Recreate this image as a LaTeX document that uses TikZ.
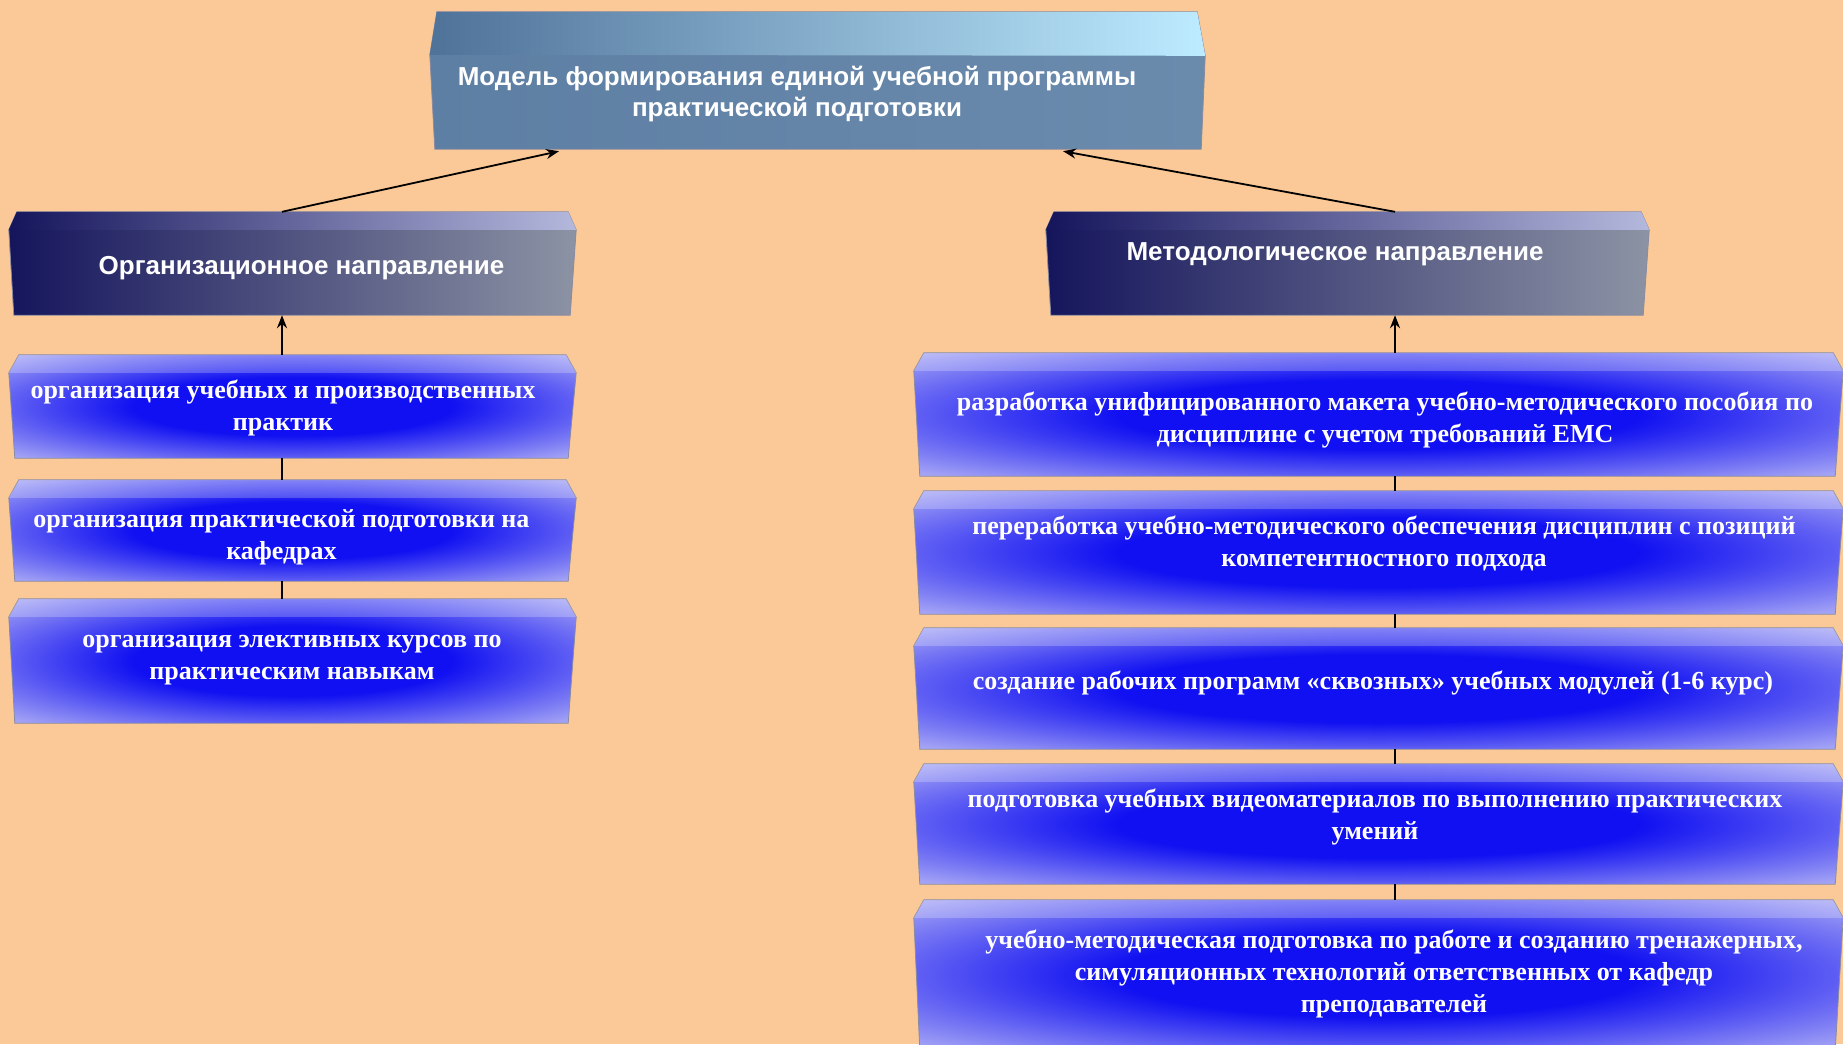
\documentclass[tikz,border=0pt]{standalone}
\usepackage{fontspec}
\setmainfont{Liberation Serif}
\setsansfont{Liberation Sans}
\usetikzlibrary{arrows.meta,calc}
\definecolor{bgpeach}{HTML}{FAC997}
\definecolor{glowin}{HTML}{1010F2}
\definecolor{glowout}{HTML}{C6C6F6}
\definecolor{navy}{HTML}{15155C}
\definecolor{hdrgray}{HTML}{8C93A4}
\definecolor{hdrmid}{HTML}{4E5AAE}
\definecolor{hdrtop}{HTML}{B4B8DC}
\definecolor{steelL}{HTML}{5D7FA3}
\definecolor{steelR}{HTML}{6B8BAD}
\definecolor{steeldark}{HTML}{4F7299}
\definecolor{icecyan}{HTML}{BDEBFF}
\definecolor{edgegray}{HTML}{8A8AA0}
\pgfdeclareradialshading{boxglow}{\pgfpoint{0bp}{0bp}}{color(0bp)=(glowin); color(14bp)=(glowin); color(39bp)=(glowout); color(50bp)=(glowout)}
\newcommand{\glowbox}[1]{%
  \shadedraw[shading=boxglow, boxedge] ($(#1.north west)+(10,0)$) -- ($(#1.north east)+(-10,0)$) -- ($(#1.north east)+(0,18)$) -- ($(#1.south east)+(-8,0)$) -- ($(#1.south west)+(6,0)$) -- ($(#1.north west)+(0,18)$) -- cycle;
  \fill[white, opacity=0.22] ($(#1.north west)+(10,0)$) -- ($(#1.north east)+(-10,0)$) -- ($(#1.north east)+(0,18)$) -- ($(#1.north west)+(0,18)$) -- cycle;
}
\newcommand{\darkbox}[1]{%
  \shadedraw[left color=navy, right color=hdrgray, boxedge] ($(#1.north west)+(8,0)$) -- ($(#1.north east)+(-8,0)$) -- ($(#1.north east)+(0,18)$) -- ($(#1.south east)+(-6,0)$) -- ($(#1.south west)+(5,0)$) -- ($(#1.north west)+(0,18)$) -- cycle;
  \shade[left color=navy, middle color=hdrmid, right color=hdrtop] ($(#1.north west)+(8,0)$) -- ($(#1.north east)+(-8,0)$) -- ($(#1.north east)+(0,18)$) -- ($(#1.north west)+(0,18)$) -- cycle;
}
\tikzset{
  boxn/.style={shape=rectangle, inner sep=0pt, draw=none},
  boxedge/.style={draw=edgegray, line width=0.8pt},
  conn/.style={draw=black, line width=1.8pt},
  tip/.style={-{Stealth[length=13pt,width=10pt]}},
  ctext/.style={text=white, font=\bfseries\fontsize{26}{32}\selectfont, align=center, inner sep=0pt},
  htext/.style={text=white, font=\sffamily\bfseries\fontsize{26}{30.6}\selectfont, align=center, inner sep=0pt}
}
\begin{document}
\begin{tikzpicture}[x=1pt, y=-1pt]
\useasboundingbox (0,0) rectangle (1843,1044);
\clip (0,0) rectangle (1843,1044);
\fill[bgpeach] (0,0) rectangle (1843,1044);

% box frames (invisible helper nodes)
\node[boxn, minimum width=775pt, minimum height=137pt] (top) at (817.5,80.5) {};
\node[boxn, minimum width=567pt, minimum height=103pt] (hl) at (292.5,263.5) {};
\node[boxn, minimum width=603pt, minimum height=103pt] (hr) at (1347.5,263.5) {};
\node[boxn, minimum width=567pt, minimum height=103pt] (L1) at (292.5,406.5) {};
\node[boxn, minimum width=567pt, minimum height=101pt] (L2) at (292.5,530.5) {};
\node[boxn, minimum width=567pt, minimum height=124pt] (L3) at (292.5,661) {};
\node[boxn, minimum width=929pt, minimum height=123pt] (R1) at (1378.5,414.5) {};
\node[boxn, minimum width=929pt, minimum height=123pt] (R2) at (1378.5,552.5) {};
\node[boxn, minimum width=929pt, minimum height=121pt] (R3) at (1378.5,688.5) {};
\node[boxn, minimum width=929pt, minimum height=120pt] (R4) at (1378.5,824) {};
\node[boxn, minimum width=929pt, minimum height=150pt] (R5) at (1378.5,975) {};

% top box
\shadedraw[left color=steelL, right color=steelR, boxedge] ($(top.north west)+(7,0)$) -- ($(top.north east)+(-8,0)$) -- ($(top.north east)+(0,44)$) -- ($(top.south east)+(-4,0)$) -- ($(top.south west)+(5,0)$) -- ($(top.north west)+(0,43)$) -- cycle;
\shade[left color=steeldark, middle color=steelR!70!icecyan, right color=icecyan] ($(top.north west)+(7,0)$) -- ($(top.north east)+(-8,0)$) -- ($(top.north east)+(0,44)$) -- ($(top.north west)+(0,43)$) -- cycle;

\darkbox{hl}
\darkbox{hr}
\glowbox{L1}
\glowbox{L2}
\glowbox{L3}
\glowbox{R1}
\glowbox{R2}
\glowbox{R3}
\glowbox{R4}
\glowbox{R5}

% connector columns
\coordinate (cl) at (282,0);
\coordinate (cr) at (1395,0);
\coordinate (tla) at (559,0);
\coordinate (tra) at (1063,0);

\draw[conn, tip] (hl.north -| cl) -- ($(top.south -| tla)+(0,2)$);
\draw[conn, tip] (hr.north -| cr) -- ($(top.south -| tra)+(0,2)$);
\draw[conn, tip] (L1.north -| cl) -- (hl.south -| cl);
\draw[conn] (L2.north -| cl) -- (L1.south -| cl);
\draw[conn] (L3.north -| cl) -- (L2.south -| cl);
\draw[conn, tip] (R1.north -| cr) -- (hr.south -| cr);
\draw[conn] (R2.north -| cr) -- (R1.south -| cr);
\draw[conn] (R3.north -| cr) -- (R2.south -| cr);
\draw[conn] (R4.north -| cr) -- (R3.south -| cr);
\draw[conn] (R5.north -| cr) -- (R4.south -| cr);

% texts
\node[htext] (tTop) at (797,94) {Модель формирования единой учебной программы\\практической подготовки};
\node[htext] (tHL) at (301.5,268) {Организационное направление};
\node[htext] (tHR) at (1335,254) {Методологическое направление};
\node[ctext] (tL1) at (283,408) {организация учебных и производственных\\практик};
\node[ctext] (tL2) at (281.5,537) {организация практической подготовки на\\кафедрах};
\node[ctext] (tL3) at (292,660) {организация элективных курсов по\\практическим навыкам};
\node[ctext] (tR1) at (1385,420) {разработка унифицированного макета учебно-методического пособия по\\дисциплине с учетом требований ЕМС};
\node[ctext] (tR2) at (1384,543) {переработка учебно-методического обеспечения дисциплин с позиций\\компетентностного подхода};
\node[ctext] (tR3) at (1373,683) {создание рабочих программ «сквозных» учебных модулей (1-6 курс)};
\node[ctext] (tR4) at (1375,817) {подготовка учебных видеоматериалов по выполнению практических\\умений};
\node[ctext] (tR5) at (1394,974) {учебно-методическая подготовка по работе и созданию тренажерных,\\симуляционных технологий ответственных от кафедр\\преподавателей};
\end{tikzpicture}
\end{document}
